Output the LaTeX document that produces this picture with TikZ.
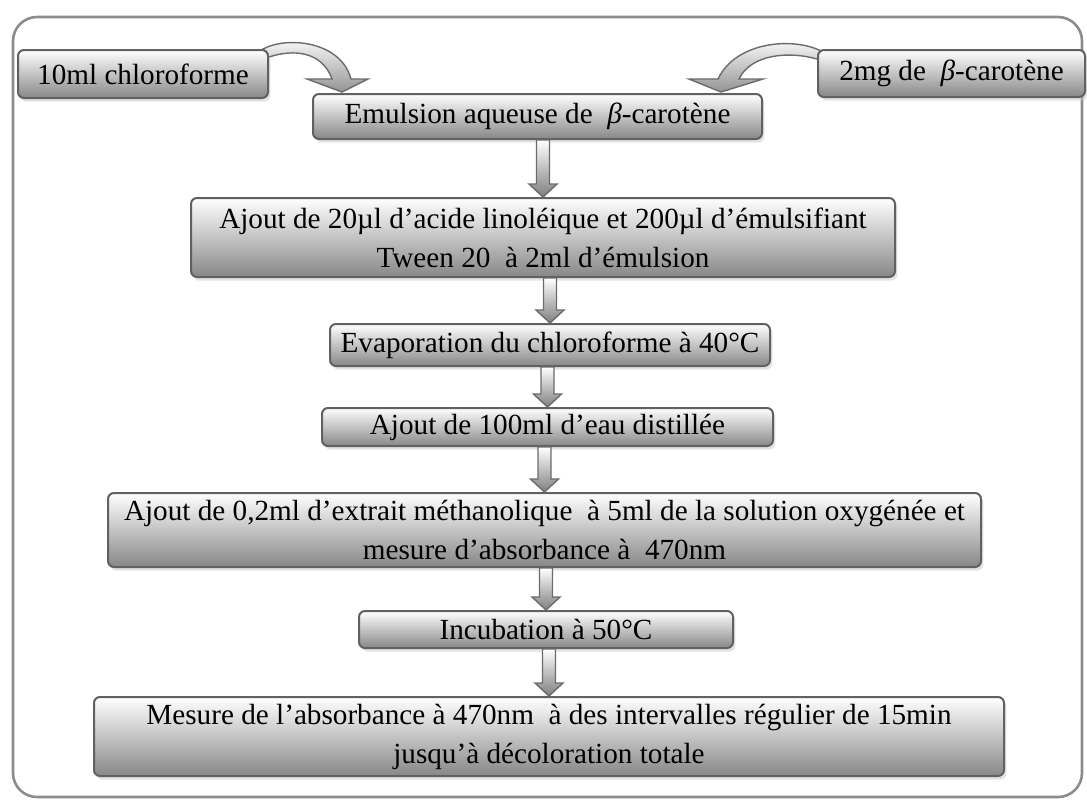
\documentclass[tikz,border=0pt]{standalone}
\usepackage{fontspec}
\setmainfont{Liberation Serif}
\usetikzlibrary{calc,shadows}
\pgfdeclarelayer{bg}
\pgfsetlayers{bg,main}

\begin{document}
\begin{tikzpicture}[x=0.5pt,y=-0.5pt,
    box/.style={draw=black!62, line width=1pt, rounded corners=3pt, top color=white, bottom color=black!47,
        drop shadow={shadow xshift=1.2pt,shadow yshift=-1.8pt,fill=black!22}, inner sep=1pt, align=center,
        font=\fontsize{14.6}{19.5}\selectfont},
    flow/.style={draw=black!58, line width=0.7pt, top color=white, bottom color=black!50},
    bentarrow/.style={draw=black!58, line width=0.7pt, top color=white, bottom color=black!42}]
    \useasboundingbox (0,0) rectangle (1087,799);
    \draw[black!45, line width=1.3pt, rounded corners=12pt] (13,17) rectangle (1082,797);
    % produits de depart
    \node[box, minimum width=125pt, minimum height=24pt] (chloro) at (143,74) {10ml chloroforme};
    \node[box, minimum width=133.5pt, minimum height=23.5pt] (beta) at (951.5,73.5) {2mg de\ \ \textit{β}-carotène};
    % etapes
    \node[box, minimum width=224.5pt, minimum height=22.5pt] (emul) at (537.5,116.5) {Emulsion aqueuse de\ \ \textit{β}-carotène};
    \node[box, minimum width=352pt, minimum height=39.5pt] (ajout) at (543,237.5)
        {Ajout de 20µl d’acide linoléique et 200µl d’émulsifiant\\Tween 20\ \ à 2ml d’émulsion};
    \node[box, minimum width=220pt, minimum height=21pt] (evap) at (550,345) {Evaporation du chloroforme à 40°C};
    \node[box, minimum width=225.5pt, minimum height=19pt] (eau) at (547.5,427) {Ajout de 100ml d’eau distillée};
    \node[box, minimum width=436.5pt, minimum height=37pt] (extrait) at (544.5,530)
        {Ajout de 0,2ml d’extrait méthanolique\ \ à 5ml de la solution oxygénée et\\mesure d’absorbance à\ \ 470nm};
    \node[box, minimum width=187pt, minimum height=18.5pt] (incub) at (546,629.5) {Incubation à 50°C};
    \node[box, minimum width=455pt, minimum height=39.5pt] (mesure) at (549,736.5)
        {Mesure de l’absorbance à 470nm\ \ à des intervalles régulier de 15min\\jusqu’à décoloration totale};
    % fleches courbes
    \begin{pgfonlayer}{bg}
        \path[bentarrow] ($(chloro.north east)+(-6,0)$) .. controls +(24,-13) and +(-10,-38) .. ($(emul.north west)+(39,-14)$)
            -- ++(17,0) -- ($(emul.north west)+(30,-1)$) -- ++(-35,-13) -- ++(25,0)
            .. controls +(-10,-28) and +(24,-8) .. ($(chloro.north east)+(0,8)$) -- cycle;
        \path[bentarrow] ($(beta.north west)+(4,2)$) .. controls +(-27,-14) and +(18,-38) .. ($(emul.north east)+(-45,-14)$)
            -- ++(-29,0) -- ($(emul.north east)+(-42,-1)$) -- ++(42,-13) -- ++(-24,0)
            .. controls +(12,-25) and +(-28,-8) .. ($(beta.north west)+(0,10)$) -- cycle;
    \end{pgfonlayer}
    % fleches
    \foreach \a/\b in {emul/ajout, ajout/evap, evap/eau, eau/extrait, extrait/incub, incub/mesure} {
        \path[flow] let \p1=(\b.north |- \a.south), \p2=(\b.north) in
            (\x1-3.25pt,\y1) -- (\x1+3.25pt,\y1) -- (\x1+3.25pt,\y2+6.5pt) -- (\x1+7pt,\y2+6.5pt) -- (\p2)
            -- (\x1-7pt,\y2+6.5pt) -- (\x1-3.25pt,\y2+6.5pt) -- cycle;
    }
\end{tikzpicture}
\end{document}
